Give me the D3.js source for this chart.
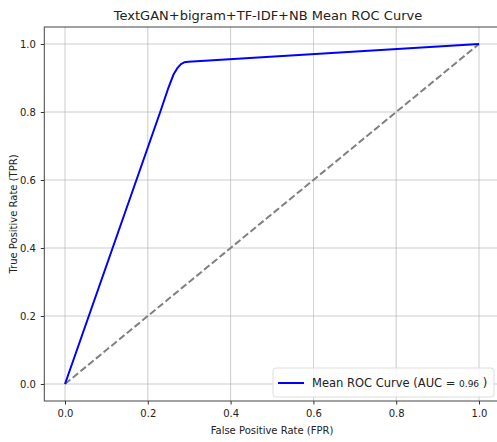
<!DOCTYPE html>
<html lang="en">
<head>
<meta charset="UTF-8">
<title>Mean ROC Curve</title>
<style>
  body { margin: 0; background: #fff; }
  text { font-family: "DejaVu Sans", sans-serif; fill: #222; }
</style>
</head>
<body>
<svg id="chart" width="497" height="442"></svg>
<script src="https://d3js.org/d3.v7.min.js"></script>
<script>
  // mean ROC curve points
  var fpr = [0, 0.23, 0.25, 0.262, 0.272, 0.28, 0.288, 0.298, 1];
  var tpr = [0, 0.80, 0.872, 0.91, 0.93, 0.941, 0.946, 0.948, 1];
  var ticks = [0, 0.2, 0.4, 0.6, 0.8, 1.0];
  var aucLabel = "0.96";

  var svg = d3.select("#chart");
  var plotL = 44.3, plotR = 499.7, plotT = 27, plotB = 401;

  var x = d3.scaleLinear().domain([-0.05, 1.05]).range([plotL, plotR]);
  var y = d3.scaleLinear().domain([-0.05, 1.05]).range([plotB, plotT]);

  // grid
  svg.append("g").selectAll("line").data(ticks).enter().append("line")
    .attr("x1", function(d) { return x(d); }).attr("x2", function(d) { return x(d); })
    .attr("y1", plotT).attr("y2", plotB)
    .attr("stroke", "#b0b0b0").attr("stroke-width", 0.8).attr("opacity", 0.8);
  svg.append("g").selectAll("line").data(ticks).enter().append("line")
    .attr("y1", function(d) { return y(d); }).attr("y2", function(d) { return y(d); })
    .attr("x1", plotL).attr("x2", plotR)
    .attr("stroke", "#b0b0b0").attr("stroke-width", 0.8).attr("opacity", 0.8);

  // axes
  var xAxis = svg.append("g")
    .attr("transform", "translate(0," + plotB + ")")
    .call(d3.axisBottom(x).tickValues(ticks).tickFormat(d3.format(".1f")).tickSize(3.5).tickPadding(5));
  var yAxis = svg.append("g")
    .attr("transform", "translate(" + plotL + ",0)")
    .call(d3.axisLeft(y).tickValues(ticks).tickFormat(d3.format(".1f")).tickSize(3.5).tickPadding(5));
  [xAxis, yAxis].forEach(function(a) {
    a.select(".domain").remove();
    a.selectAll("text").style("font-size", "10px").attr("fill", "#222");
    a.selectAll("line").attr("stroke", "#333");
  });

  // spines
  svg.append("rect").attr("x", plotL).attr("y", plotT)
    .attr("width", plotR - plotL).attr("height", plotB - plotT)
    .attr("fill", "none").attr("stroke", "#444").attr("stroke-width", 1);

  // diagonal
  svg.append("line")
    .attr("x1", x(0)).attr("y1", y(0)).attr("x2", x(1)).attr("y2", y(1))
    .attr("stroke", "#808080").attr("stroke-width", 2).attr("stroke-dasharray", "7,3");

  // ROC curve
  var line = d3.line()
    .x(function(d) { return x(d[0]); })
    .y(function(d) { return y(d[1]); });
  svg.append("path")
    .datum(d3.zip(fpr, tpr))
    .attr("d", line)
    .attr("fill", "none").attr("stroke", "#0000ff").attr("stroke-width", 2)
    .attr("stroke-linejoin", "round");

  // title and labels
  svg.append("text").attr("x", 268).attr("y", 20)
    .attr("text-anchor", "middle").style("font-size", "13px")
    .text("TextGAN+bigram+TF-IDF+NB Mean ROC Curve");
  svg.append("text").attr("x", 272).attr("y", 434)
    .attr("text-anchor", "middle").style("font-size", "10px")
    .text("False Positive Rate (FPR)");
  svg.append("text")
    .attr("transform", "translate(17," + ((plotT + plotB) / 2) + ") rotate(-90)")
    .attr("text-anchor", "middle").style("font-size", "10px")
    .text("True Positive Rate (TPR)");

  // legend
  var lg = svg.append("g").attr("transform", "translate(273,368)");
  lg.append("rect").attr("width", 221).attr("height", 29).attr("rx", 3)
    .attr("fill", "#fff").attr("fill-opacity", 0.8).attr("stroke", "#ddd");
  lg.append("line").attr("x1", 5).attr("x2", 31).attr("y1", 15).attr("y2", 15)
    .attr("stroke", "#0000ff").attr("stroke-width", 2);
  var lt = lg.append("text").attr("x", 39).attr("y", 19).style("font-size", "11.5px");
  lt.append("tspan").text("Mean ROC Curve (AUC = ");
  lt.append("tspan").style("font-size", "9px").text(aucLabel);
  lt.append("tspan").text(" )");
</script>
</body>
</html>
